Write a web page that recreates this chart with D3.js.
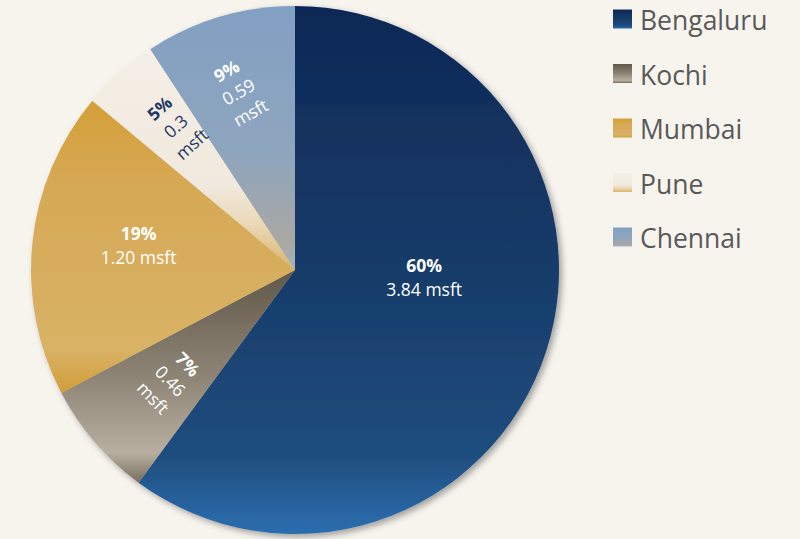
<!DOCTYPE html>
<html>
<head>
<meta charset="utf-8">
<script src="https://cdn.jsdelivr.net/npm/d3@7"></script>
<style>
  body { margin: 0; background: #f7f4ee; }
  svg { display: block; }
</style>
</head>
<body>
<script>
// office space by city
var cities = ["Bengaluru", "Kochi", "Mumbai", "Pune", "Chennai"];
var msft = [3.84, 0.46, 1.20, 0.3, 0.59];
var shares = ["60%", "7%", "19%", "5%", "9%"];
var msftText = ["3.84 msft", "0.46 msft", "1.20 msft", "0.3 msft", "0.59 msft"];

var chart = {
	width: 800,
	height: 539,
	cx: 295,
	cy: 270,
	r: 264
};

// gradient stops per slice (top -> bottom)
var grads = {
	Bengaluru: [[0, "#0e2855"], [0.55, "#183e6c"], [0.85, "#1f4d7e"], [1, "#2c6eb0"]],
	Kochi: [[0, "#615849"], [0.5, "#8d8476"], [0.86, "#b9afa1"], [1, "#786e60"]],
	Mumbai: [[0, "#d49f38"], [0.3, "#d6a955"], [0.85, "#d9b266"], [1, "#d29d3a"]],
	Pune: [[0, "#f4efe7"], [0.62, "#f1e9dd"], [0.8, "#ead7b6"], [1, "#dcb36a"]],
	Chennai: [[0, "#82a0c3"], [0.55, "#8ea5be"], [0.9, "#aaa8a2"], [1, "#a2b2c4"]]
};

// label placement: radius fraction, angle shift (deg), rotation (deg)
var labelLayout = {
	Bengaluru: { r: 0.49, shift: -15, rot: 0, lines: 2, color: "#fff" },
	Kochi: { r: 0.63, shift: -1, rot: 46, lines: 3, color: "#fff" },
	Mumbai: { r: 0.6, shift: 3, rot: 0, lines: 2, color: "#fff" },
	Pune: { r: 0.71, shift: 2, rot: -42, lines: 3, color: "#1f3864" },
	Chennai: { r: 0.71, shift: -1, rot: -30, lines: 3, color: "#fff" }
};

var data = cities.map(function(c, i){
	return { city: c, value: msft[i], share: shares[i], text: msftText[i] };
});

var svg = d3.select("body")
	.append("svg")
	.attr("width", chart.width)
	.attr("height", chart.height)
	.style("background-color", "#f7f4ee");

var defs = svg.append("defs");

cities.forEach(function(c, i){
	var g = defs.append("linearGradient")
		.attr("id", "grad" + i)
		.attr("x1", 0).attr("y1", 0)
		.attr("x2", 0).attr("y2", 1);
	grads[c].forEach(function(s){
		g.append("stop").attr("offset", s[0]).attr("stop-color", s[1]);
	});
});

var shadow = defs.append("filter")
	.attr("id", "shadow")
	.attr("x", "-10%").attr("y", "-10%")
	.attr("width", "120%").attr("height", "120%");
shadow.append("feDropShadow")
	.attr("dx", 3).attr("dy", 3)
	.attr("stdDeviation", 3)
	.attr("flood-color", "#000")
	.attr("flood-opacity", 0.35);

var pie = d3.pie().sort(null).value(function(d){ return d.value; });
var arc = d3.arc().innerRadius(0).outerRadius(chart.r);
var arcs = pie(data);

var pieGroup = svg.append("g")
	.attr("transform", "translate(" + chart.cx + "," + chart.cy + ")");

pieGroup.append("g")
	.attr("filter", "url(#shadow)")
	.selectAll("path")
	.data(arcs)
	.enter()
	.append("path")
	.attr("d", arc)
	.attr("fill", function(d, i){ return "url(#grad" + i + ")"; });

// labels
var labels = pieGroup.selectAll("g.label")
	.data(arcs)
	.enter()
	.append("g")
	.attr("class", "label")
	.attr("transform", function(d){
		var L = labelLayout[d.data.city];
		var a = (d.startAngle + d.endAngle) / 2 + L.shift * Math.PI / 180;
		var rr = L.r * chart.r;
		var x = Math.sin(a) * rr, y = -Math.cos(a) * rr;
		return "translate(" + x + "," + y + ") rotate(" + L.rot + ")";
	});

labels.each(function(d){
	var L = labelLayout[d.data.city];
	var lines;
	if (L.lines === 3) {
		var parts = d.data.text.split(" ");
		lines = [d.data.share, parts[0], parts[1]];
	} else {
		lines = [d.data.share, d.data.text];
	}
	var lh = 24;
	var t = d3.select(this).append("text")
		.attr("text-anchor", "middle")
		.attr("font-family", "'Open Sans', sans-serif")
		.attr("font-size", 17.5)
		.attr("fill", L.color);
	lines.forEach(function(s, i){
		t.append("tspan")
			.attr("x", 0)
			.attr("y", (i - (lines.length - 1) / 2) * lh)
			.attr("dominant-baseline", "central")
			.attr("font-weight", i === 0 ? "bold" : "normal")
			.text(s);
	});
});

// legend
var legend = svg.append("g")
	.attr("transform", "translate(613,0)");

var item = legend.selectAll("g")
	.data(cities)
	.enter()
	.append("g")
	.attr("transform", function(d, i){ return "translate(0," + (19 + i * 54.5) + ")"; });

item.append("rect")
	.attr("x", 0)
	.attr("y", -9.5)
	.attr("width", 19)
	.attr("height", 19)
	.attr("fill", function(d, i){ return "url(#grad" + i + ")"; });

item.append("text")
	.attr("x", 27)
	.attr("y", 1)
	.attr("dominant-baseline", "central")
	.attr("font-family", "'Open Sans', sans-serif")
	.attr("font-size", 26.5)
	.attr("fill", "#595959")
	.text(function(d){ return d; });
</script>
</body>
</html>
